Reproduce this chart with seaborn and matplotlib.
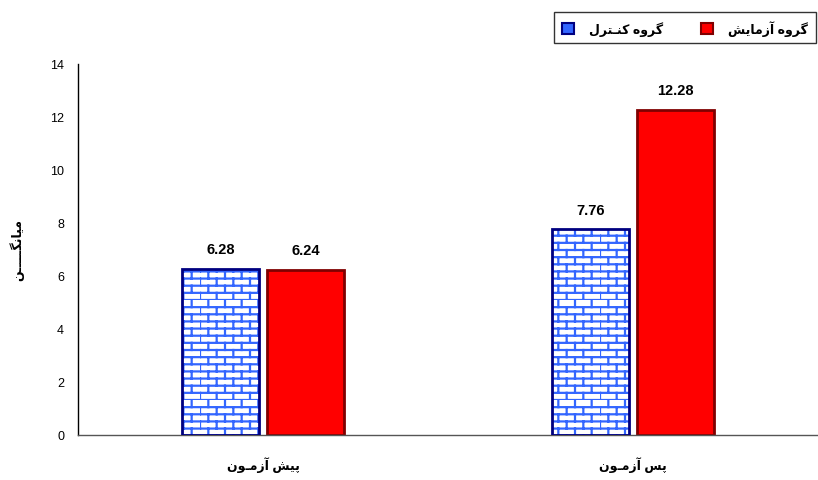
import warnings
import numpy as np
import pandas as pd
import matplotlib
matplotlib.use("Agg")
import matplotlib.pyplot as plt
from matplotlib import hatch as mhatch
from matplotlib.path import Path
from matplotlib.patches import Patch, Rectangle
import seaborn as sns

warnings.filterwarnings("ignore")

# === Data ===
phases = ["پیش آزمـون", "پس آزمـون"]
groups = ["گروه کنـترل", "گروه آزمایش"]
control_means = [6.28, 7.76]
experiment_means = [6.24, 12.28]
y_label = "میانگـــــن"
y_ticks = [0, 2, 4, 6, 8, 10, 12, 14]

# === Minimal Persian shaping (matplotlib has no bidi / joining) ===
FORMS = {  # isolated, final, initial, medial
    "ا": ("\uFE8D", "\uFE8E", None, None),
    "آ": ("\uFE81", "\uFE82", None, None),
    "ر": ("\uFEAD", "\uFEAE", None, None),
    "ز": ("\uFEAF", "\uFEB0", None, None),
    "و": ("\uFEED", "\uFEEE", None, None),
    "ه": ("\uFEE9", "\uFEEA", "\uFEEB", "\uFEEC"),
    "م": ("\uFEE1", "\uFEE2", "\uFEE3", "\uFEE4"),
    "ش": ("\uFEB5", "\uFEB6", "\uFEB7", "\uFEB8"),
    "س": ("\uFEB1", "\uFEB2", "\uFEB3", "\uFEB4"),
    "ت": ("\uFE95", "\uFE96", "\uFE97", "\uFE98"),
    "ن": ("\uFEE5", "\uFEE6", "\uFEE7", "\uFEE8"),
    "ل": ("\uFEDD", "\uFEDE", "\uFEDF", "\uFEE0"),
    "پ": ("\uFB56", "\uFB57", "\uFB58", "\uFB59"),
    "گ": ("\uFB92", "\uFB93", "\uFB94", "\uFB95"),
    "ک": ("\uFB8E", "\uFB8F", "\uFB90", "\uFB91"),
    "ی": ("\uFBFC", "\uFBFD", "\uFBFE", "\uFBFF"),
}
TATWEEL = "ـ"


def _dual(ch):
    return ch == TATWEEL or (ch in FORMS and FORMS[ch][2] is not None)


def _arabic(ch):
    return ch == TATWEEL or ch in FORMS


def shape(text):
    out = []
    for i, ch in enumerate(text):
        if ch not in FORMS:
            out.append(ch)
            continue
        prev = text[i - 1] if i > 0 else " "
        nxt = text[i + 1] if i + 1 < len(text) else " "
        join_prev = _dual(prev)
        join_next = _dual(ch) and _arabic(nxt)
        iso, fin, ini, med = FORMS[ch]
        if join_prev and join_next:
            out.append(med)
        elif join_prev:
            out.append(fin)
        elif join_next:
            out.append(ini)
        else:
            out.append(iso)
    return "".join(out)[::-1]


# === Brick hatch pattern ===
class BrickHatch(mhatch.HatchPatternBase):
    def __init__(self, hatch, density):
        self.rows = 14 * hatch.count("B")
        self.cols = 6
        self.num_vertices = self.rows * (2 + 2 * self.cols)

    def set_vertices_and_codes(self, vertices, codes):
        h = 1.0 / self.rows
        w = 1.0 / self.cols
        k = 0
        for r in range(self.rows):
            y0 = r * h
            vertices[k] = (0, y0)
            vertices[k + 1] = (1, y0)
            codes[k] = Path.MOVETO
            codes[k + 1] = Path.LINETO
            k += 2
            shift = (w / 2) * (r % 2)
            for c in range(self.cols):
                x = c * w + shift
                vertices[k] = (x, y0)
                vertices[k + 1] = (x, y0 + h)
                codes[k] = Path.MOVETO
                codes[k + 1] = Path.LINETO
                k += 2


mhatch._hatch_types.append(BrickHatch)

# === Style ===
sns.set_style("white")
plt.rcParams["font.family"] = ["Liberation Sans", "DejaVu Sans"]
plt.rcParams["hatch.linewidth"] = 1.6
for key in ("text.color", "axes.labelcolor", "xtick.color", "ytick.color"):
    plt.rcParams[key] = "black"

df = pd.DataFrame({
    "phase": phases * 2,
    "group": [groups[0]] * 2 + [groups[1]] * 2,
    "value": control_means + experiment_means,
})

fig = plt.figure(figsize=(8.18, 4.81), dpi=100)
ax = fig.add_axes([0.0954, 0.0936, 0.9046, 0.7713])

sns.barplot(
    data=df, x="phase", y="value", hue="group",
    palette={groups[0]: "white", groups[1]: "#ff0000"},
    saturation=1, width=0.46, gap=0.1, linewidth=2,
    legend=False, ax=ax,
)

ctrl_bars, exp_bars = ax.containers[0], ax.containers[1]
for p in ctrl_bars:
    p.set_edgecolor("#3366ff")
    p.set_hatch("B")
    p.set_linewidth(0)
    ax.add_patch(Rectangle(p.get_xy(), p.get_width(), p.get_height(),
                           fill=False, edgecolor="#000080", linewidth=2, zorder=3))
for p in exp_bars:
    p.set_edgecolor("#800000")
    p.set_linewidth(2)

for cont in (ctrl_bars, exp_bars):
    ax.bar_label(cont, fmt="%.2f", padding=9, fontsize=10.5, fontweight="bold")

# === Axes ===
ax.set_xlim(-0.5, 1.5)
ax.set_ylim(0, 14)
ax.set_yticks(y_ticks)
ax.set_xticks(range(len(phases)))
ax.set_xticklabels([shape(t) for t in phases], fontsize=9, fontweight="bold")
ax.set_xticks([0.5], minor=True)
ax.tick_params(axis="x", which="major", length=0, pad=15)
ax.tick_params(axis="x", which="minor", length=5, width=1, color="#555555", direction="out")
ax.tick_params(axis="y", length=4, width=1, color="black", direction="out",
               labelsize=9, pad=6)
ax.set_xlabel("")
ax.set_ylabel(shape(y_label), fontsize=9, fontweight="bold")
ax.yaxis.set_label_coords(-0.073, 0.5)

for side in ("top", "right"):
    ax.spines[side].set_visible(False)
ax.spines["left"].set_color("black")
ax.spines["bottom"].set_color("#555555")
ax.spines["left"].set_linewidth(1)
ax.spines["bottom"].set_linewidth(1)

# === Legend ===
handles = [
    Patch(facecolor="#3366ff", edgecolor="#000080", linewidth=1.5),
    Patch(facecolor="#ff0000", edgecolor="#800000", linewidth=1.5),
]
leg = fig.legend(
    handles, [shape(g) for g in groups], ncol=2,
    loc="upper right", bbox_to_anchor=(1.005, 0.985),
    prop={"weight": "bold", "size": 9},
    handlelength=1.0, handleheight=1.0, handletextpad=1.2,
    columnspacing=3.0, borderpad=0.6, fancybox=False,
    frameon=True, edgecolor="black",
)
leg.get_frame().set_linewidth(1)

fig.savefig("out.png", dpi=100)
